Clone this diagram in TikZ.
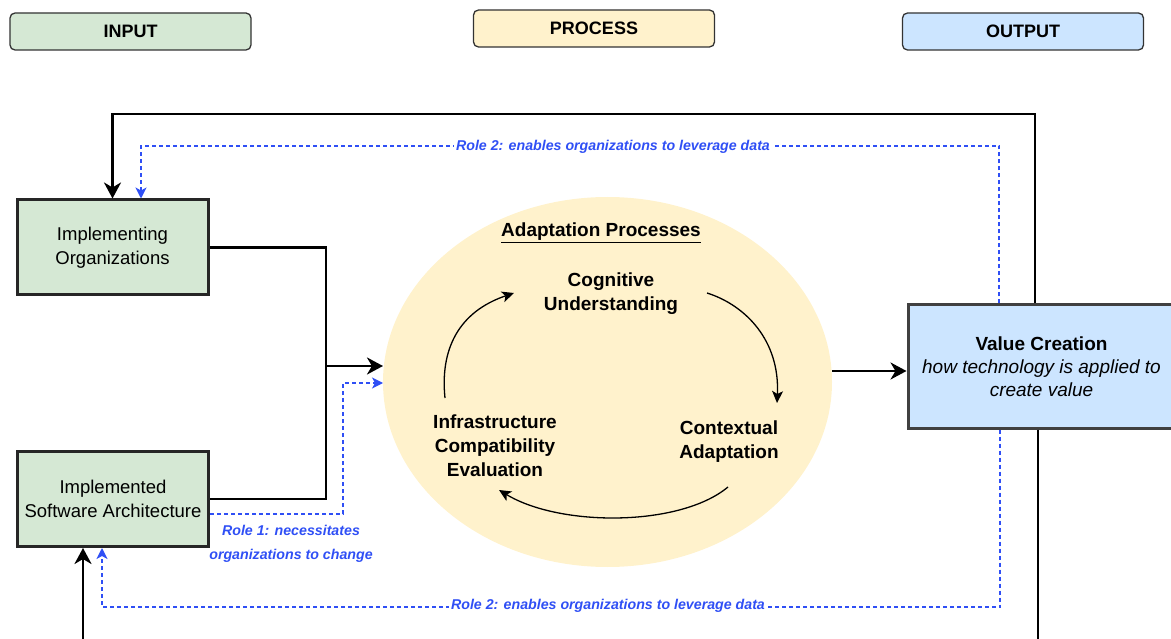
\documentclass[tikz,border=0pt]{standalone}
\usepackage{fontspec}
\setmainfont{Liberation Sans}
\usepackage{tikz}
\usetikzlibrary{arrows.meta,shapes.geometric}
\definecolor{ingreen}{HTML}{D5E8D4}
\definecolor{procyellow}{HTML}{FFF2CC}
\definecolor{outblue}{HTML}{CCE5FF}
\definecolor{roleblue}{HTML}{2F4FF5}
\tikzset{
  phasebox/.style={rounded corners=5pt,draw=black!80,line width=1.3pt,minimum width=241pt,minimum height=37pt,font=\bfseries\fontsize{18}{22}\selectfont},
  inbox/.style={draw=black!85,fill=ingreen,line width=3pt,minimum width=191pt,minimum height=95pt,align=center,font=\fontsize{18.5}{24}\selectfont},
  flow/.style={line width=2.9pt},
  flowarrow/.style={flow,-{Stealth[length=16pt,width=17pt,inset=5pt]}},
  rolelink/.style={roleblue,dash pattern=on 4pt off 3pt,line width=1.4pt},
  rolearrow/.style={rolelink,-{Stealth[length=11pt,width=11pt,inset=3pt]}},
  rolelabel/.style={text=roleblue,font=\bfseries\itshape\fontsize{14.2}{24}\selectfont,fill=white,inner sep=2pt,align=center},
  steptext/.style={font=\bfseries\fontsize{19}{24}\selectfont,align=center},
  cyclearrow/.style={line width=1.3pt,-{Stealth[length=12pt,width=11pt,inset=3pt]}}
}

\begin{document}
\begin{tikzpicture}[x=1pt,y=-1pt]
  \clip (0,0) rectangle (1171,639);
  % phase headers
  \node[phasebox,fill=ingreen] (input) at (130.5,31.5) {INPUT};
  \node[phasebox,fill=procyellow] (process) at (594,28.5) {PROCESS};
  \node[phasebox,fill=outblue] (output) at (1023,31.5) {OUTPUT};

  % inputs, process, output
  \node[inbox] (org) at (112.5,247.5) {\raisebox{-3pt}{Implementing}\\\raisebox{-3pt}{Organizations}};
  \node[inbox] (sw) at (113,499) {Implemented\\Software Architecture};
  \node[ellipse,fill=procyellow,inner sep=0,outer sep=0,minimum width=449pt,minimum height=370pt] (adapt) at (607.5,382) {};
  \node[draw=black!75,fill=outblue,line width=3pt,minimum width=267pt,minimum height=123pt,align=center,font=\fontsize{19}{23}\selectfont]
    (vc) at (1041.5,366.5) {\textbf{Value Creation}\\\textit{how technology is applied to}\\\textit{create value}};

  % adaptation cycle
  \node[steptext] (adtitle) at (601,233) {\underline{Adaptation Processes}};
  \node[steptext] (cog) at (611,294) {Cognitive\\Understanding};
  \node[steptext] (ctx) at (729,442) {Contextual\\Adaptation};
  \node[steptext] (infra) at (495,446) {Infrastructure\\Compatibility\\Evaluation};
  \coordinate (cogout) at (707,293);
  \coordinate (ctxin) at (777,403);
  \coordinate (ctxout) at (728,487);
  \coordinate (infrain) at (499,490);
  \coordinate (infraout) at (445,398);
  \coordinate (cogin) at (514,293);
  \draw[cyclearrow] (cogout) .. controls (745,305) and (780,340) .. (ctxin);
  \draw[cyclearrow] (ctxout) .. controls (680,527) and (560,527) .. (infrain);
  \draw[cyclearrow] (infraout) .. controls (440,350) and (458,312) .. (cogin);

  % main flow
  \coordinate (merge) at (326,366);
  \draw[flow] (org.east) -| (merge) |- (sw.east);
  \draw[flowarrow] (merge) -- (merge -| adapt.west);
  \coordinate (procout) at (832,371);
  \draw[flowarrow] (procout) -- (procout -| vc.west);

  % feedback loops
  \coordinate (fbtop) at (1035,114);
  \coordinate (fbbot) at (1038,660);
  \draw[flowarrow] (vc.north -| fbtop) -- (fbtop) -| (org.north);
  \draw[flowarrow] (vc.south -| fbbot) -- (fbbot) -| ([xshift=-30pt]sw.south);

  % roles
  \coordinate (roletop) at (999,146);
  \coordinate (rolebot) at (1000,607);
  \coordinate (roleone) at (343,383);
  \draw[rolearrow] (vc.north -| roletop) -- (roletop) -| ([xshift=28.5pt]org.north);
  \draw[rolearrow] (vc.south -| rolebot) -- (rolebot) -| ([xshift=-11pt]sw.south);
  \draw[rolearrow] ([yshift=-15pt]sw.east) -| (roleone) -- (roleone -| adapt.west);
  \node[rolelabel] (role2top) at (613,147) {Role 2: enables organizations to leverage data};
  \node[rolelabel] (role2bot) at (608,606) {Role 2: enables organizations to leverage data};
  \node[rolelabel,fill=none] (role1) at (291,544) {Role 1: necessitates\\organizations to change};
\end{tikzpicture}
\end{document}
